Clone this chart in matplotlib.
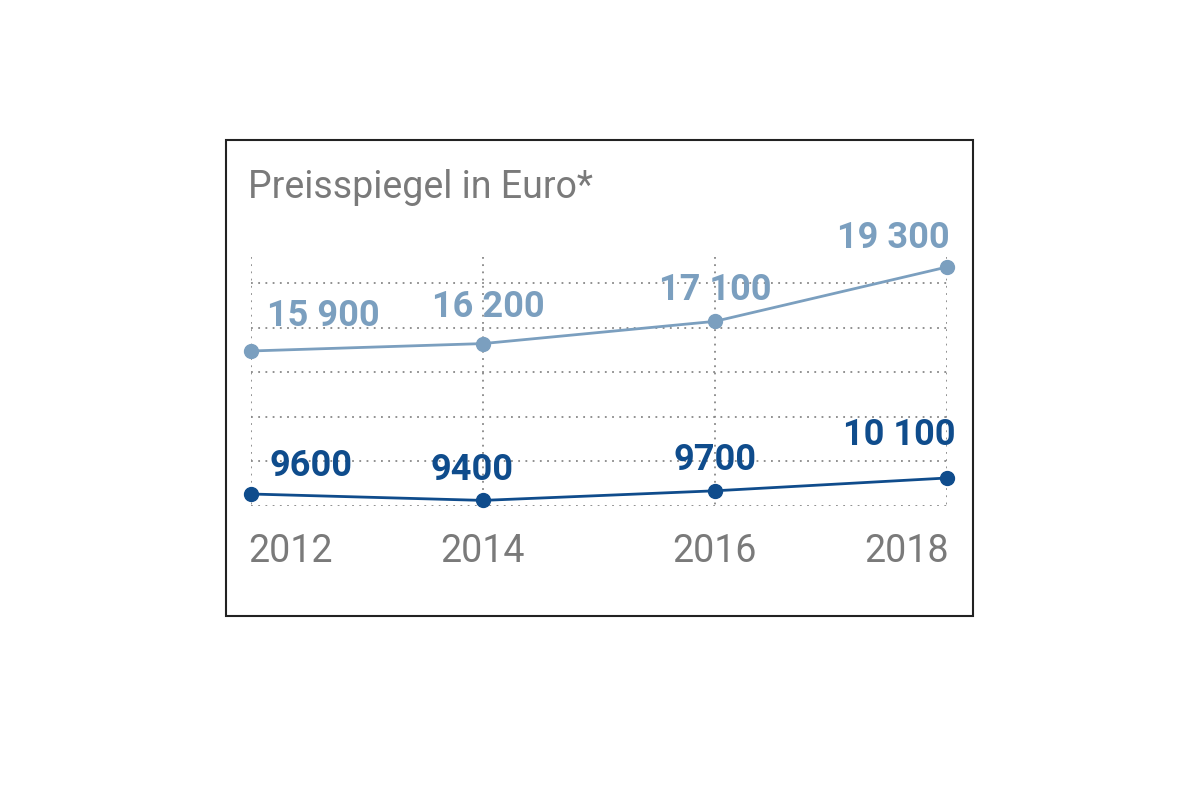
import matplotlib
matplotlib.use("Agg")
import matplotlib.pyplot as plt
from matplotlib.patches import Rectangle

years = ["2012", "2014", "2016", "2018"]
upper = [15900, 16200, 17100, 19300]
lower = [9600, 9400, 9700, 10100]
upper_labels = ["15 900", "16 200", "17 100", "19 300"]
lower_labels = ["9600", "9400", "9700", "10 100"]

FONT = ["Liberation Sans Narrow", "Roboto", "DejaVu Sans"]
c_up = "#7b9fbf"
c_lo = "#0f4c8c"
gray = "#7a7a7a"

W, H = 1200, 800
fig = plt.figure(figsize=(12, 8), dpi=100)
fig.patch.set_facecolor("white")
fig.patches.append(Rectangle((226 / W, 1 - 616 / H), 747 / W, 476 / H,
                             transform=fig.transFigure, fill=False,
                             edgecolor="#222222", linewidth=1.5))

pos = [251 / W, 1 - 506 / H, 696 / W, 249 / H]
ax = fig.add_axes(pos)
ax.set_xlim(0, 3)
ax.set_ylim(506, 257)
for y in [283, 328, 372, 417, 461, 506]:
    ax.plot([0, 3], [y, y], ls=(0, (1, 3)), color="#888888", lw=1.3)
for x in range(4):
    ax.plot([x, x], [257, 506], ls=(0, (1, 3)), color="#888888", lw=1.3)
ax.axis("off")

ax1 = fig.add_axes(pos, frameon=False)
ax1.set_xlim(0, 3); ax1.set_ylim(9625, 19705); ax1.axis("off")
ax2 = fig.add_axes(pos, frameon=False)
ax2.set_xlim(0, 3); ax2.set_ylim(9225, 17006); ax2.axis("off")

xs = range(len(years))
ax1.plot(xs, upper, color=c_up, lw=2, marker="o", ms=10, clip_on=False)
ax2.plot(xs, lower, color=c_lo, lw=2, marker="o", ms=10, clip_on=False)

up_off = [(72, 35), (5, 37), (0, 31), (-54, 29)]
lo_off = [(60, 28), (-11, 30), (0, 31), (-48, 43)]
for i in xs:
    ax1.annotate(upper_labels[i], (i, upper[i]), xytext=up_off[i], textcoords="offset pixels",
                 ha="center", va="center", fontsize=26, fontweight="bold", color=c_up,
                 family=FONT, annotation_clip=False)
    ax2.annotate(lower_labels[i], (i, lower[i]), xytext=lo_off[i], textcoords="offset pixels",
                 ha="center", va="center", fontsize=26, fontweight="bold", color=c_lo,
                 family=FONT, annotation_clip=False)

year_x = [290, 482, 714, 906]
for i, yr in enumerate(years):
    fig.text(year_x[i] / W, 1 - 552 / H, yr, ha="center", va="center",
             fontsize=27, color=gray, family=FONT)

fig.text(248 / W, 1 - 187 / H, "Preisspiegel in Euro*", ha="left", va="center",
         fontsize=27, color=gray, family=FONT)

fig.savefig("out.png", dpi=100)
